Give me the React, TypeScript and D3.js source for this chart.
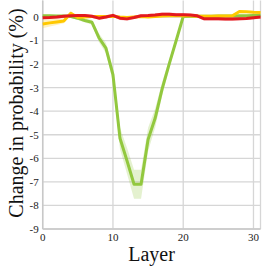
import React from 'react';
import * as d3 from 'd3';

const layers = [0, 1, 2, 3, 4, 5, 6, 7, 8, 9, 10, 11, 12, 13, 14, 15, 16, 17, 18, 19, 20, 21, 22, 23, 24, 25, 26, 27, 28, 29, 30, 31];

const greenVals = [0.05, 0.05, 0.04, 0.04, 0.02, -0.05, -0.15, -0.22, -0.88, -1.32, -2.45, -5.15, -6.1, -7.1, -7.1, -5.2, -4.3, -3.05, -2.0, -1.0, 0.02, 0.03, 0.03, 0.03, 0.03, 0.04, 0.04, 0.04, 0.05, 0.05, 0.06, 0.06];
const greenErr = [0.05, 0.05, 0.05, 0.05, 0.05, 0.08, 0.08, 0.1, 0.18, 0.22, 0.3, 0.45, 0.55, 0.62, 0.62, 0.5, 0.4, 0.28, 0.2, 0.12, 0.04, 0.04, 0.04, 0.04, 0.04, 0.04, 0.04, 0.04, 0.04, 0.04, 0.04, 0.04];

const yellowVals = [-0.3, -0.25, -0.21, -0.17, 0.16, -0.02, 0.0, 0.02, 0.02, 0.02, 0.03, 0.0, -0.02, 0.0, 0.02, 0.0, 0.02, 0.04, 0.05, 0.05, 0.06, 0.05, 0.03, 0.03, 0.03, 0.04, 0.04, 0.05, 0.23, 0.22, 0.2, 0.19];
const yellowErr = [0.18, 0.15, 0.13, 0.1, 0.08, 0.05, 0.04, 0.04, 0.04, 0.04, 0.04, 0.04, 0.04, 0.04, 0.04, 0.04, 0.04, 0.04, 0.04, 0.04, 0.04, 0.04, 0.04, 0.04, 0.04, 0.04, 0.04, 0.05, 0.05, 0.05, 0.05, 0.05];

const redVals = [-0.03, -0.02, 0.0, 0.03, 0.05, 0.06, 0.06, 0.03, -0.05, 0.0, 0.07, -0.05, -0.08, -0.02, 0.05, 0.06, 0.08, 0.12, 0.12, 0.1, 0.1, 0.08, 0.05, -0.08, -0.08, -0.08, -0.09, -0.09, -0.07, -0.06, -0.03, 0.0];
const redErr = [0.07, 0.07, 0.07, 0.07, 0.07, 0.07, 0.07, 0.07, 0.07, 0.07, 0.07, 0.08, 0.08, 0.07, 0.07, 0.07, 0.07, 0.07, 0.07, 0.07, 0.07, 0.07, 0.07, 0.07, 0.07, 0.07, 0.07, 0.07, 0.07, 0.07, 0.07, 0.07];

const xTicks = [0, 10, 20, 30];
const yTicks = [0, -1, -2, -3, -4, -5, -6, -7, -8, -9];

const series = [
  { name: 'green', color: '#92c83e', vals: greenVals, err: greenErr },
  { name: 'yellow', color: '#ffc800', vals: yellowVals, err: yellowErr },
  { name: 'red', color: '#e3191e', vals: redVals, err: redErr },
];

const W = 266;
const H = 266;
const margin = { top: 0.5, right: 5.5, bottom: 37, left: 42.7 };
const font = '"Liberation Serif", "Times New Roman", serif';

export default function App() {
  const x = d3.scaleLinear().domain([0, 31]).range([margin.left, W - margin.right]);
  const y = d3.scaleLinear().domain([-9, 0.7]).range([H - margin.bottom, margin.top]);

  const line = d3
    .line<number>()
    .x((_, i) => x(layers[i]))
    .y(d => y(d));

  const band = (vals: number[], err: number[]) =>
    d3
      .area<number>()
      .x((_, i) => x(layers[i]))
      .y0((d, i) => y(d - err[i]))
      .y1((d, i) => y(d + err[i]))(vals);

  const grid = '#d6d6d6';
  const x0 = x(0);
  const x1 = x(31);
  const yb = y(-9);
  const yt = margin.top;

  return (
    <div style={{ position: 'absolute', left: 0, top: 0 }}>
      <svg width={W} height={H} style={{ display: 'block', background: '#fff' }}>
        {yTicks.map(t => (
          <line key={'gy' + t} x1={x0} x2={x1} y1={y(t)} y2={y(t)} stroke={grid} strokeWidth={1.3} />
        ))}
        {xTicks.map(t => (
          <line key={'gx' + t} x1={x(t)} x2={x(t)} y1={yt} y2={yb} stroke={grid} strokeWidth={1.3} />
        ))}
        <line x1={x1} x2={x1} y1={yt} y2={yb} stroke={grid} strokeWidth={1.3} />
        <line x1={x0} x2={x0} y1={yt} y2={yb} stroke="#c8c8c8" strokeWidth={1.5} />
        <line x1={x0} x2={x1} y1={yb} y2={yb} stroke="#c8c8c8" strokeWidth={1.5} />

        {series.map(s => (
          <path key={'b' + s.name} d={band(s.vals, s.err) || ''} fill={s.color} opacity={0.25} />
        ))}
        {series.map(s => (
          <path
            key={'l' + s.name}
            d={line(s.vals) || ''}
            fill="none"
            stroke={s.color}
            strokeWidth={3}
            strokeLinejoin="round"
          />
        ))}

        {yTicks.map(t => (
          <text
            key={'ty' + t}
            x={x0 - 4}
            y={y(t)}
            dy="0.35em"
            textAnchor="end"
            fontFamily={font}
            fontSize={11}
            fill="#222"
          >
            {t}
          </text>
        ))}
        {xTicks.map(t => (
          <text
            key={'tx' + t}
            x={x(t)}
            y={yb + 12}
            textAnchor="middle"
            fontFamily={font}
            fontSize={11}
            fill="#222"
          >
            {t}
          </text>
        ))}

        <text
          x={(x0 + x1) / 2}
          y={261}
          textAnchor="middle"
          fontFamily={font}
          fontSize={20}
          fill="#111"
        >
          Layer
        </text>
        <text
          transform={`translate(23,113) rotate(-90)`}
          textAnchor="middle"
          fontFamily={font}
          fontSize={20}
          fill="#111"
        >
          Change in probability (%)
        </text>
      </svg>
    </div>
  );
}
